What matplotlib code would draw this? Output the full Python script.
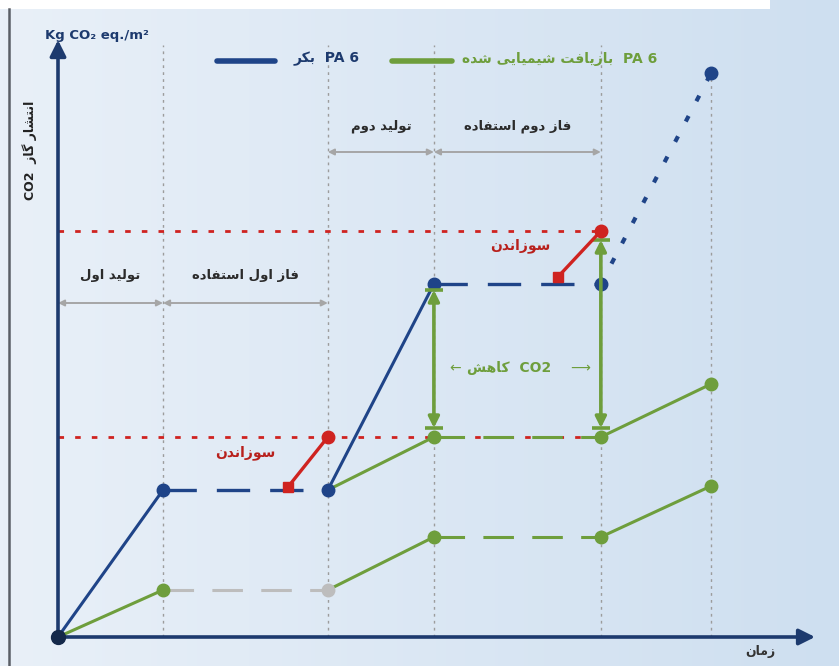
import numpy as np
import matplotlib
matplotlib.use("Agg")
import matplotlib.pyplot as plt
from matplotlib.lines import Line2D
from matplotlib.patches import Rectangle

# --- data (arbitrary time units / kg CO2 eq. per m2) ---
phase_t = [0, 1.0, 2.57, 3.58, 5.17, 6.22]          # phase boundaries
virgin = [0, 1.47, 1.47, 3.53, 3.53, 5.64]           # PA 6 virgin
recycled = [0, 0.47, 0.47, 1.00, 1.00, 1.51]         # chemically recycled PA 6
recycled_b = [1.47, 2.00, 2.00, 2.53]                # recycled after first virgin life
burn1_x = [2.19, 2.57]
burn1_y = [1.50, 2.00]
burn2_x = [4.76, 5.17]
burn2_y = [3.60, 4.06]
burn_levels = [2.00, 4.06]

phase_names = ["تولید اول", "فاز اول استفاده", "تولید دوم", "فاز دوم استفاده"]

# --- simple persian shaping (matplotlib has no complex text layout) ---
FORMS = {
    'ا': ('\uFE8D', '\uFE8E', None, None),
    'ب': ('\uFE8F', '\uFE90', '\uFE91', '\uFE92'),
    'ت': ('\uFE95', '\uFE96', '\uFE97', '\uFE98'),
    'د': ('\uFEA9', '\uFEAA', None, None),
    'ر': ('\uFEAD', '\uFEAE', None, None),
    'ز': ('\uFEAF', '\uFEB0', None, None),
    'س': ('\uFEB1', '\uFEB2', '\uFEB3', '\uFEB4'),
    'ش': ('\uFEB5', '\uFEB6', '\uFEB7', '\uFEB8'),
    'ف': ('\uFED1', '\uFED2', '\uFED3', '\uFED4'),
    'ک': ('\uFB8E', '\uFB8F', '\uFB90', '\uFB91'),
    'گ': ('\uFB92', '\uFB93', '\uFB94', '\uFB95'),
    'ل': ('\uFEDD', '\uFEDE', '\uFEDF', '\uFEE0'),
    'م': ('\uFEE1', '\uFEE2', '\uFEE3', '\uFEE4'),
    'ن': ('\uFEE5', '\uFEE6', '\uFEE7', '\uFEE8'),
    'و': ('\uFEED', '\uFEEE', None, None),
    'ه': ('\uFEE9', '\uFEEA', '\uFEEB', '\uFEEC'),
    'ی': ('\uFBFC', '\uFBFD', '\uFBFE', '\uFBFF'),
}


def fa(s):
    out = []
    for i, ch in enumerate(s):
        f = FORMS.get(ch)
        if f is None:
            out.append(ch)
            continue
        prev = s[i - 1] if i > 0 else ''
        nxt = s[i + 1] if i + 1 < len(s) else ''
        jp = prev in FORMS and FORMS[prev][2] is not None
        jn = f[2] is not None and nxt in FORMS
        if jp and jn:
            out.append(f[3])
        elif jp:
            out.append(f[1])
        elif jn:
            out.append(f[2])
        else:
            out.append(f[0])
    return ''.join(reversed(out))


navy = "#1d3a6e"
blue = "#1f4488"
green = "#6e9e3c"
red = "#cf2320"
gray = "#9c9c9c"

plt.rcParams['font.family'] = ['DejaVu Sans']

fig = plt.figure(figsize=(8.39, 6.66), dpi=100)
ax = fig.add_axes([0, 0, 1, 1])
x0, x1 = -58 / 105, 781 / 105
y0, y1 = -29 / 100, 637 / 100
ax.set_xlim(x0, x1)
ax.set_ylim(y0, y1)
ax.axis("off")

# background gradient
grad = np.linspace(0, 1, 256)[None, :]
c_left = np.array([233, 240, 248]) / 255
c_right = np.array([206, 223, 240]) / 255
img = c_left[None, None, :] * (1 - grad[..., None]) + c_right[None, None, :] * grad[..., None]
ax.imshow(img, extent=[x0, x1, y0, y1], aspect="auto", zorder=0)
fig.add_artist(Rectangle((0, 657 / 666), 770 / 839, 9 / 666, transform=fig.transFigure,
                         facecolor="white", edgecolor="none", zorder=1))
fig.add_artist(Line2D([8.5 / 839, 8.5 / 839], [0, 657 / 666], transform=fig.transFigure,
                      color="#5a5f66", lw=1.8))

# vertical phase separators
for i, t in enumerate(phase_t[1:], start=1):
    top = virgin[-1] if i == len(phase_t) - 1 else 5.92
    ax.plot([t, t], [0, top], color=gray, lw=1, linestyle=(0, (2, 3)), zorder=2)

# red dotted incineration levels
for lv in burn_levels:
    ax.plot([0, phase_t[4]], [lv, lv], color=red, lw=2, linestyle=(0, (2, 4)), zorder=2)

# phase arrows and labels
arrow_y = [3.34, 3.34, 4.85, 4.85]
label_y = [3.61, 3.61, 5.11, 5.11]
for k in range(4):
    a, b = phase_t[k], phase_t[k + 1]
    ax.annotate("", xy=(b, arrow_y[k]), xytext=(a, arrow_y[k]),
                arrowprops=dict(arrowstyle="<|-|>", color="#a6a6a6", lw=1.4,
                                mutation_scale=9, shrinkA=0, shrinkB=0), zorder=3)
    ax.text((a + b) / 2, label_y[k], fa(phase_names[k]), ha="center", va="center",
            fontsize=9.5, fontweight="bold", color="#2b2b2b", zorder=4)

# recycled PA6 lines
ax.plot(phase_t[:2], recycled[:2], color=green, lw=2.2, zorder=5)
ax.plot(phase_t[1:3], recycled[1:3], color="#bdbdbd", lw=2.2, linestyle=(0, (10, 6)), zorder=5)
ax.plot(phase_t[2:4], recycled[2:4], color=green, lw=2.2, zorder=5)
ax.plot(phase_t[3:5], recycled[3:5], color=green, lw=2.2, linestyle=(0, (10, 6)), zorder=5)
ax.plot(phase_t[4:6], recycled[4:6], color=green, lw=2.2, zorder=5)
ax.plot(phase_t[2:4], recycled_b[:2], color=green, lw=2.2, zorder=5)
ax.plot(phase_t[3:5], recycled_b[1:3], color=green, lw=2.2, linestyle=(0, (10, 6)), zorder=5)
ax.plot(phase_t[4:6], recycled_b[2:4], color=green, lw=2.2, zorder=5)
ax.plot([phase_t[1]], [recycled[1]], "o", color=green, ms=9, zorder=7)
ax.plot([phase_t[2]], [recycled[2]], "o", color="#bdbdbd", ms=9, zorder=7)
ax.plot(phase_t[3:6], recycled[3:6], "o", color=green, ms=9, linestyle="none", zorder=7)
ax.plot(phase_t[3:6], recycled_b[1:4], "o", color=green, ms=9, linestyle="none", zorder=7)

# virgin PA6 lines
ax.plot(phase_t[:2], virgin[:2], color=blue, lw=2.2, zorder=6)
ax.plot(phase_t[1:3], virgin[1:3], color=blue, lw=2.4, linestyle=(0, (10, 6)), zorder=6)
ax.plot(phase_t[2:4], virgin[2:4], color=blue, lw=2.2, zorder=6)
ax.plot(phase_t[3:5], virgin[3:5], color=blue, lw=2.4, linestyle=(0, (10, 6)), zorder=6)
ax.plot(phase_t[4:6], virgin[4:6], color=blue, lw=3, linestyle=(0, (1.5, 4)), zorder=6)
ax.plot(phase_t[1:], virgin[1:], "o", color=blue, ms=9, linestyle="none", zorder=8)

# incineration
for bx, by in [(burn1_x, burn1_y), (burn2_x, burn2_y)]:
    ax.plot(bx, by, color=red, lw=2.4, zorder=9)
    ax.plot(bx[0], by[0], "s", color=red, ms=7, zorder=10)
    ax.plot(bx[1], by[1], "o", color=red, ms=9, zorder=10)
ax.text(1.78, 1.84, fa("سوزاندن"), ha="center", va="center", fontsize=10,
        fontweight="bold", color="#b8201c", zorder=11)
ax.text(4.40, 3.91, fa("سوزاندن"), ha="center", va="center", fontsize=10,
        fontweight="bold", color="#b8201c", zorder=11)

# CO2 reduction arrows
for t, top in [(phase_t[3], virgin[3] - 0.06), (phase_t[4], 3.97)]:
    bot = recycled_b[1] + 0.09
    ax.annotate("", xy=(t, top), xytext=(t, bot),
                arrowprops=dict(arrowstyle="<|-|>", color=green, lw=2.6,
                                mutation_scale=16, shrinkA=0, shrinkB=0), zorder=8)
    ax.plot([t, t], [top, bot], "_", color=green, ms=13, mew=2.6, zorder=8)
ax.text(3.78, 2.69, "←", ha="center", va="center", fontsize=10, color=green, zorder=11)
ax.text(4.30, 2.69, fa("کاهش") + "  CO2", ha="center", va="center", fontsize=10,
        fontweight="bold", color=green, zorder=11)
ax.text(4.97, 2.69, "⟶", ha="center", va="center", fontsize=10, color=green, zorder=11)

# axes arrows
ax.annotate("", xy=(0, 5.97), xytext=(0, 0),
            arrowprops=dict(arrowstyle="-|>", color=navy, lw=2.6, mutation_scale=24,
                            shrinkA=0, shrinkB=0), zorder=12)
ax.annotate("", xy=(7.21, 0), xytext=(0, 0),
            arrowprops=dict(arrowstyle="-|>", color=navy, lw=2.6, mutation_scale=24,
                            shrinkA=0, shrinkB=0), zorder=12)
ax.plot([0], [0], "o", color="#14284a", ms=10, zorder=13)

# axis labels
ax.text(-0.124, 6.02, "Kg CO₂ eq./m²", ha="left", va="center", fontsize=9.5,
        fontweight="bold", color=navy, zorder=12)
ax.text(-0.267, 4.87, "CO2  " + fa("انتشار گاز"), ha="center", va="center", rotation=90,
        fontsize=9, fontweight="bold", color="#222222", zorder=12)
ax.text(6.69, -0.15, fa("زمان"), ha="center", va="center", fontsize=9,
        fontweight="bold", color="#333333", zorder=12)

# legend
ax.plot([1.51, 2.07], [5.76, 5.76], color=blue, lw=4, solid_capstyle="round", zorder=12)
ax.text(2.24, 5.78, fa("بکر") + "  PA 6", ha="left", va="center", fontsize=10,
        fontweight="bold", color=navy, zorder=12)
ax.plot([3.18, 3.75], [5.76, 5.76], color=green, lw=4, solid_capstyle="round", zorder=12)
ax.text(3.85, 5.78, fa("بازیافت شیمیایی شده") + "  PA 6", ha="left", va="center",
        fontsize=10, fontweight="bold", color=green, zorder=12)

fig.savefig("out.png", dpi=100)
